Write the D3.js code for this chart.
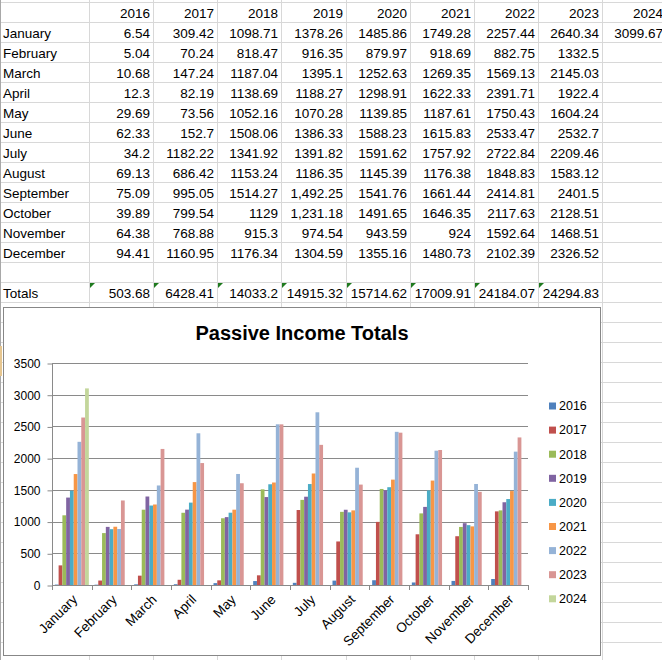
<!DOCTYPE html>
<html>
<head>
<meta charset="utf-8">
<script src="https://cdn.jsdelivr.net/npm/d3@7"></script>
<style>
  body { margin: 0; background: #fff; }
  svg { display: block; }
</style>
</head>
<body>
<svg id="canvas"></svg>
<script>
// Canvas size
const width = 662, height = 660;

// Data
const months = ["January", "February", "March", "April", "May", "June", "July",
    "August", "September", "October", "November", "December"];
const years = ["2016", "2017", "2018", "2019", "2020", "2021", "2022", "2023", "2024"];

const v2016 = [6.54, 5.04, 10.68, 12.3, 29.69, 62.33, 34.2, 69.13, 75.09, 39.89, 64.38, 94.41];
const v2017 = [309.42, 70.24, 147.24, 82.19, 73.56, 152.7, 1182.22, 686.42, 995.05, 799.54, 768.88, 1160.95];
const v2018 = [1098.71, 818.47, 1187.04, 1138.69, 1052.16, 1508.06, 1341.92, 1153.24, 1514.27, 1129, 915.3, 1176.34];
const v2019 = [1378.26, 916.35, 1395.1, 1188.27, 1070.28, 1386.33, 1391.82, 1186.35, 1492.25, 1231.18, 974.54, 1304.59];
const v2020 = [1485.86, 879.97, 1252.63, 1298.91, 1139.85, 1588.23, 1591.62, 1145.39, 1541.76, 1491.65, 943.59, 1355.16];
const v2021 = [1749.28, 918.69, 1269.35, 1622.33, 1187.61, 1615.83, 1757.92, 1176.38, 1661.44, 1646.35, 924, 1480.73];
const v2022 = [2257.44, 882.75, 1569.13, 2391.71, 1750.43, 2533.47, 2722.84, 1848.83, 2414.81, 2117.63, 1592.64, 2102.39];
const v2023 = [2640.34, 1332.5, 2145.03, 1922.4, 1604.24, 2532.7, 2209.46, 1583.12, 2401.5, 2128.51, 1468.51, 2326.52];
const v2024 = [3099.67, null, null, null, null, null, null, null, null, null, null, null];
const series = [v2016, v2017, v2018, v2019, v2020, v2021, v2022, v2023, v2024];

// Totals row as shown (no total for 2024)
const totals = ["503.68", "6428.41", "14033.2", "14915.32", "15714.62", "17009.91", "24184.07", "24294.83"];
// Cells that the sheet shows with a thousands separator [series, month]
const commaCells = [[3, 8], [3, 9]];

const yTicks = [0, 500, 1000, 1500, 2000, 2500, 3000, 3500];
const colors = ["#4F81BD", "#C0504D", "#9BBB59", "#8064A2", "#4BACC6", "#F79646", "#95B3D7", "#D99694", "#C3D69B"];

const svg = d3.select("#canvas")
    .attr("width", width)
    .attr("height", height);

// ---------- spreadsheet grid ----------
const colX = [0, 89, 153, 217, 281, 346, 410, 474, 538, 602, 666];
const rowTop = 2, rowH = 20;
const sheetFont = "'Liberation Sans', Arial, sans-serif";

const grid = svg.append("g");
for (let y = rowTop; y <= height; y += rowH) {
    grid.append("line")
        .attr("x1", 0).attr("x2", width)
        .attr("y1", y + 0.5).attr("y2", y + 0.5)
        .attr("stroke", "#d8d8d8");
}
colX.forEach(x => {
    grid.append("line")
        .attr("x1", x + 0.5).attr("x2", x + 0.5)
        .attr("y1", 0).attr("y2", height)
        .attr("stroke", "#d8d8d8");
});
// dark left edge of the window
grid.append("line")
    .attr("x1", 0.5).attr("x2", 0.5).attr("y1", 0).attr("y2", height)
    .attr("stroke", "#a8a8a8");
// bit of a selection border peeking out at the left
grid.append("rect")
    .attr("x", 0).attr("y", 346).attr("width", 2).attr("height", 30)
    .attr("fill", "#e6c690");

const cells = svg.append("g")
    .attr("font-family", sheetFont)
    .attr("font-size", 13.5)
    .attr("fill", "#000");

function baseline(row) { return rowTop + row * rowH + 15.5; }

// header row
years.forEach((yr, i) => {
    cells.append("text")
        .attr("x", colX[i + 2] - 3)
        .attr("y", baseline(0))
        .attr("text-anchor", "end")
        .text(yr);
});

// month rows
months.forEach((m, j) => {
    cells.append("text")
        .attr("x", 3)
        .attr("y", baseline(j + 1))
        .text(m);
    series.forEach((s, i) => {
        if (s[j] == null) return;
        let isComma = commaCells.some(c => c[0] === i && c[1] === j);
        cells.append("text")
            .attr("x", colX[i + 2] - 3)
            .attr("y", baseline(j + 1))
            .attr("text-anchor", "end")
            .text(isComma ? d3.format(",.2f")(s[j]) : String(s[j]));
    });
});

// totals row (row 14, one blank row before it)
cells.append("text")
    .attr("x", 3)
    .attr("y", baseline(14))
    .text("Totals");
totals.forEach((t, i) => {
    cells.append("text")
        .attr("x", colX[i + 2] - 3)
        .attr("y", baseline(14))
        .attr("text-anchor", "end")
        .text(t);
    // green error-check triangle in the corner
    let x = colX[i + 1] + 1, y = rowTop + 14 * rowH + 1;
    svg.append("path")
        .attr("d", `M${x},${y}L${x + 5},${y}L${x},${y + 5}Z`)
        .attr("fill", "#1f7a1f");
});

// ---------- chart ----------
const chart = svg.append("g");
chart.append("rect")
    .attr("x", 3.5).attr("y", 307.5)
    .attr("width", 597).attr("height", 348)
    .attr("fill", "#fff")
    .attr("stroke", "#878787");

chart.append("text")
    .attr("x", 302)
    .attr("y", 340)
    .attr("text-anchor", "middle")
    .attr("font-family", sheetFont)
    .attr("font-weight", "bold")
    .attr("font-size", 20)
    .attr("fill", "#000")
    .text("Passive Income Totals");

const plotLeft = 52, plotRight = 528;
const y = d3.scaleLinear().domain([0, 3500]).range([585, 363]);
const x0 = d3.scaleBand().domain(months).range([plotLeft, plotRight]);
const barW = x0.bandwidth() / 10.5; // Excel gap width 150%
const x1 = d3.scaleBand().domain(years)
    .range([barW * 0.75, x0.bandwidth() - barW * 0.75]);

// gridlines
chart.append("g")
    .selectAll("line")
    .data(yTicks.slice(1))
    .enter().append("line")
    .attr("x1", plotLeft).attr("x2", plotRight)
    .attr("y1", d => Math.round(y(d)) + 0.5)
    .attr("y2", d => Math.round(y(d)) + 0.5)
    .attr("stroke", "#8a8a8a");

// y axis
const yAxis = chart.append("g")
    .attr("transform", `translate(${plotLeft + 0.5},0.5)`)
    .call(d3.axisLeft(y).tickValues(yTicks).tickSize(5).tickPadding(7).tickFormat(d3.format("d")));
yAxis.select(".domain").attr("stroke", "#8a8a8a").attr("d", `M0,${y(3500)}V${y(0)}`);
yAxis.selectAll(".tick line").attr("stroke", "#8a8a8a");
yAxis.selectAll("text")
    .attr("font-family", sheetFont)
    .attr("font-size", 12)
    .attr("fill", "#000");

// bars
const groups = chart.append("g")
    .selectAll("g")
    .data(months)
    .enter().append("g")
    .attr("transform", d => `translate(${x0(d)},0)`);

groups.selectAll("rect")
    .data((m, j) => series.map((s, i) => ({ year: years[i], value: s[j], i })).filter(d => d.value != null))
    .enter().append("rect")
    .attr("x", d => x1(d.year))
    .attr("width", x1.bandwidth())
    .attr("y", d => y(d.value))
    .attr("height", d => y(0) - y(d.value))
    .attr("fill", d => colors[d.i]);

// x axis line and ticks at category edges
const xa = chart.append("g");
xa.append("line")
    .attr("x1", plotLeft).attr("x2", plotRight)
    .attr("y1", Math.round(y(0)) + 0.5).attr("y2", Math.round(y(0)) + 0.5)
    .attr("stroke", "#8a8a8a");
const edges = months.map(m => x0(m)).concat([plotRight]);
xa.selectAll(".edge")
    .data(edges)
    .enter().append("line")
    .attr("class", "edge")
    .attr("x1", d => Math.round(d) + 0.5).attr("x2", d => Math.round(d) + 0.5)
    .attr("y1", y(0)).attr("y2", y(0) + 5)
    .attr("stroke", "#8a8a8a");
xa.selectAll("text")
    .data(months)
    .enter().append("text")
    .attr("transform", d => `translate(${x0(d) + x0.bandwidth() / 2 + 3},${y(0) + 12}) rotate(-45)`)
    .attr("text-anchor", "end")
    .attr("dy", "0.35em")
    .attr("font-family", sheetFont)
    .attr("font-size", 13.5)
    .attr("fill", "#000")
    .text(d => d);

// legend
const legend = chart.append("g")
    .selectAll("g")
    .data(years)
    .enter().append("g")
    .attr("transform", (d, i) => `translate(549,${406 + i * 24.1})`);
legend.append("rect")
    .attr("x", 0).attr("y", -3.5)
    .attr("width", 7).attr("height", 7)
    .attr("fill", (d, i) => colors[i]);
legend.append("text")
    .attr("x", 10)
    .attr("dy", "0.35em")
    .attr("font-family", sheetFont)
    .attr("font-size", 12.5)
    .attr("fill", "#000")
    .text(d => d);
</script>
</body>
</html>
